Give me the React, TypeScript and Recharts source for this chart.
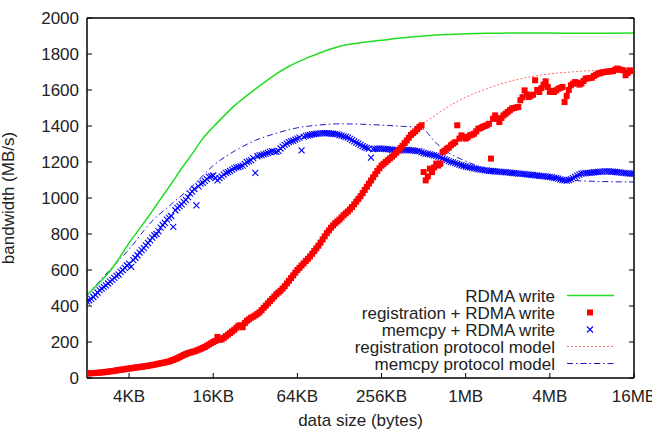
import {
  ComposedChart,
  Line,
  Scatter,
  XAxis,
  YAxis,
  Legend,
} from "recharts";

// x values are log2(bytes): 11 = 2KB ... 24 = 16MB
const xTicks = [12, 14, 16, 18, 20, 22, 24];
const xTickLabels = ["4KB", "16KB", "64KB", "256KB", "1MB", "4MB", "16MB"];
const yTicks = [0, 200, 400, 600, 800, 1000, 1200, 1400, 1600, 1800, 2000];

const seriesNames = [
  "RDMA write",
  "registration + RDMA write",
  "memcpy + RDMA write",
  "registration protocol model",
  "memcpy protocol model",
];

// measured samples (log2 size)
const sampleSizes = [
  11.0, 11.05, 11.1, 11.15, 11.2, 11.25, 11.3, 11.35, 11.4, 11.45, 11.5, 11.55, 11.6, 11.65, 11.7, 11.75, 11.8, 11.85, 11.9, 11.95,
  12.0, 12.05, 12.1, 12.15, 12.2, 12.25, 12.3, 12.35, 12.4, 12.45, 12.5, 12.55, 12.6, 12.65, 12.7, 12.75, 12.8, 12.85, 12.9, 12.95,
  13.0, 13.05, 13.1, 13.15, 13.2, 13.25, 13.3, 13.35, 13.4, 13.45, 13.5, 13.55, 13.6, 13.65, 13.7, 13.75, 13.8, 13.85, 13.9, 13.95,
  14.0, 14.05, 14.1, 14.15, 14.2, 14.25, 14.3, 14.35, 14.4, 14.45, 14.5, 14.55, 14.6, 14.65, 14.7, 14.75, 14.8, 14.85, 14.9, 14.95,
  15.0, 15.05, 15.1, 15.15, 15.2, 15.25, 15.3, 15.35, 15.4, 15.45, 15.5, 15.55, 15.6, 15.65, 15.7, 15.75, 15.8, 15.85, 15.9, 15.95,
  16.0, 16.05, 16.1, 16.15, 16.2, 16.25, 16.3, 16.35, 16.4, 16.45, 16.5, 16.55, 16.6, 16.65, 16.7, 16.75, 16.8, 16.85, 16.9, 16.95,
  17.0, 17.05, 17.1, 17.15, 17.2, 17.25, 17.3, 17.35, 17.4, 17.45, 17.5, 17.55, 17.6, 17.65, 17.7, 17.75, 17.8, 17.85, 17.9, 17.95,
  18.0, 18.05, 18.1, 18.15, 18.2, 18.25, 18.3, 18.35, 18.4, 18.45, 18.5, 18.55, 18.6, 18.65, 18.7, 18.75, 18.8, 18.85, 18.9, 18.95,
  19.0, 19.05, 19.1, 19.15, 19.2, 19.25, 19.3, 19.35, 19.4, 19.45, 19.5, 19.55, 19.6, 19.65, 19.7, 19.75, 19.8, 19.85, 19.9, 19.95,
  20.0, 20.05, 20.1, 20.15, 20.2, 20.25, 20.3, 20.35, 20.4, 20.45, 20.5, 20.55, 20.6, 20.65, 20.7, 20.75, 20.8, 20.85, 20.9, 20.95,
  21.0, 21.05, 21.1, 21.15, 21.2, 21.25, 21.3, 21.35, 21.4, 21.45, 21.5, 21.55, 21.6, 21.65, 21.7, 21.75, 21.8, 21.85, 21.9, 21.95,
  22.0, 22.05, 22.1, 22.15, 22.2, 22.25, 22.3, 22.35, 22.4, 22.45, 22.5, 22.55, 22.6, 22.65, 22.7, 22.75, 22.8, 22.85, 22.9, 22.95,
  23.0, 23.05, 23.1, 23.15, 23.2, 23.25, 23.3, 23.35, 23.4, 23.45, 23.5, 23.55, 23.6, 23.65, 23.7, 23.75, 23.8, 23.85, 23.9, 23.95,
  24.0,
];

const registrationRdma = [
  25, 26, 27, 27, 28, 29, 30, 31, 32, 34, 35, 37, 38, 40, 42, 44, 46, 47, 49, 51,
  53, 54, 56, 58, 59, 61, 63, 64, 66, 68, 70, 72, 74, 77, 79, 82, 84, 86, 89, 92,
  96, 100, 105, 110, 116, 122, 128, 133, 138, 141, 145, 148, 152, 157, 162, 167, 172, 179, 186, 193,
  200, 206, 228, 212, 214, 223, 232, 241, 250, 259, 268, 279, 290, 293, 282, 305, 318, 326, 335, 341,
  348, 356, 365, 377, 390, 402, 415, 428, 440, 452, 465, 475, 485, 497, 510, 525, 540, 555, 570, 585,
  600, 612, 625, 637, 650, 662, 675, 690, 705, 720, 735, 752, 770, 787, 805, 820, 835, 848, 860, 870,
  880, 892, 905, 915, 925, 937, 950, 965, 980, 995, 1010, 1027, 1045, 1062, 1080, 1097, 1115, 1132, 1150, 1165,
  1180, 1190, 1200, 1210, 1220, 1230, 1240, 1252, 1265, 1277, 1290, 1305, 1320, 1335, 1350, 1360, 1370, 1382, 1395, 1404,
  1144, 1098, 1120, 1163, 1144, 1170, 1191, 1180, 1191, 1255, 1262, 1274, 1280, 1293, 1302, 1310, 1404, 1330, 1348, 1340,
  1330, 1338, 1348, 1352, 1357, 1370, 1385, 1388, 1395, 1400, 1404, 1412, 1219, 1440, 1459, 1440, 1422, 1445, 1459, 1468,
  1478, 1488, 1497, 1500, 1503, 1506, 1543, 1560, 1598, 1575, 1561, 1568, 1574, 1654, 1600, 1589, 1610, 1630, 1648, 1617,
  1589, 1595, 1589, 1598, 1607, 1612, 1617, 1533, 1567, 1600, 1626, 1635, 1644, 1640, 1630, 1636, 1650, 1663, 1665, 1667,
  1668, 1678, 1685, 1691, 1694, 1698, 1700, 1702, 1703, 1704, 1705, 1712, 1719, 1715, 1711, 1709, 1682, 1695, 1709, 1706,
  1705,
];

const memcpyRdma = [
  425, 432, 440, 450, 462, 475, 488, 497, 506, 515, 525, 535, 545, 556, 567, 575, 590, 600, 612, 625,
  636, 617, 655, 668, 682, 696, 710, 722, 737, 750, 765, 780, 793, 800, 815, 835, 850, 862, 880, 890,
  900, 839, 932, 945, 955, 965, 978, 990, 1005, 1024, 1035, 1050, 959, 1065, 1080, 1085, 1095, 1105, 1117, 1120,
  1125, 1110, 1098, 1110, 1120, 1130, 1140, 1144, 1150, 1158, 1165, 1170, 1172, 1176, 1180, 1190, 1200, 1205, 1210, 1222,
  1139, 1232, 1237, 1238, 1242, 1246, 1250, 1256, 1260, 1258, 1256, 1262, 1275, 1285, 1295, 1302, 1310, 1314, 1318, 1324,
  1330, 1335, 1265, 1339, 1345, 1348, 1350, 1353, 1355, 1357, 1358, 1359, 1360, 1361, 1360, 1359, 1358, 1357, 1356, 1353,
  1350, 1346, 1342, 1339, 1335, 1329, 1322, 1315, 1308, 1302, 1295, 1288, 1282, 1278, 1274, 1224, 1272, 1273, 1274, 1275,
  1274, 1273, 1272, 1271, 1270, 1268, 1266, 1265, 1265, 1265, 1265, 1266, 1267, 1266, 1265, 1264, 1262, 1261, 1260, 1255,
  1250, 1247, 1245, 1242, 1240, 1237, 1234, 1230, 1226, 1220, 1215, 1210, 1205, 1201, 1198, 1194, 1190, 1186, 1182, 1178,
  1175, 1172, 1170, 1167, 1165, 1162, 1160, 1158, 1156, 1154, 1153, 1151, 1150, 1149, 1148, 1147, 1146, 1145, 1144, 1143,
  1142, 1141, 1140, 1138, 1137, 1136, 1135, 1134, 1133, 1131, 1130, 1129, 1128, 1126, 1125, 1123, 1122, 1121, 1120, 1118,
  1117, 1115, 1112, 1110, 1108, 1104, 1100, 1098, 1097, 1100, 1105, 1110, 1117, 1124, 1130, 1135, 1137, 1138, 1139, 1140,
  1141, 1143, 1144, 1145, 1146, 1147, 1148, 1148, 1148, 1147, 1146, 1145, 1143, 1142, 1141, 1140, 1138, 1137, 1135, 1135,
  1135,
];

// plain RDMA write curve
const rdmaSizes = [
  11, 11.25, 11.5, 11.75, 12, 12.25, 12.5, 12.75, 13, 13.25, 13.5, 13.75,
  14, 14.25, 14.5, 14.75, 15, 15.25, 15.5, 15.75, 16, 16.25, 16.5, 16.75,
  17, 17.5, 18, 18.5, 19, 19.5, 20, 20.5, 21, 22, 23, 24,
];
const rdmaWrite = [
  460, 520, 580, 660, 750, 830, 910, 995, 1078, 1165, 1245, 1330,
  1395, 1455, 1512, 1560, 1605, 1648, 1690, 1725, 1755, 1780, 1803, 1825,
  1842, 1862, 1876, 1890, 1900, 1908, 1912, 1915, 1916, 1916, 1915, 1916,
];

// models
const regModelSizes = [
  11, 11.5, 12, 12.5, 13, 13.5, 14, 14.5, 15, 15.5, 16, 16.5, 17, 17.5, 18,
  18.5, 18.95, 19.25, 19.5, 19.75, 20, 20.5, 21, 21.5, 22, 22.5, 23, 23.5, 24,
];
const regModel = [
  25, 35, 52, 72, 100, 140, 200, 270, 350, 465, 600, 740, 880, 1020, 1170,
  1290, 1404, 1455, 1495, 1530, 1560, 1607, 1645, 1672, 1690, 1700, 1708, 1712, 1716,
];

const memModelSizes = [
  11, 11.5, 12, 12.5, 13, 13.5, 14, 14.5, 15, 15.5, 16, 16.5, 17, 17.5, 18,
  18.5, 18.92, 19.3, 19.6, 20, 20.5, 21, 21.5, 22, 22.5, 23, 23.5, 24,
];
const memModel = [
  460, 590, 715, 860, 965, 1065, 1180, 1260, 1320, 1360, 1390, 1405, 1412, 1410, 1405,
  1398, 1392, 1305, 1250, 1205, 1160, 1135, 1120, 1108, 1098, 1093, 1090, 1089,
];

const toRows = (xs: number[], ys: number[]) => xs.map((x, i) => ({ x, y: ys[i] }));

const regRows = toRows(sampleSizes, registrationRdma);
const memRows = toRows(sampleSizes, memcpyRdma);
const rdmaRows = toRows(rdmaSizes, rdmaWrite);
const regModelRows = toRows(regModelSizes, regModel);
const memModelRows = toRows(memModelSizes, memModel);

const FONT = "'Liberation Sans', Arial, Helvetica, sans-serif";
const TEXT = "#222";
const GREEN = "#22dd22";
const RED = "#ff0000";
const BLUE = "#0000ff";
const RED_MODEL = "#ff6666";
const BLUE_MODEL = "#1a1acc";
const TICK = 5;

const Square = (props: any) => {
  const { cx, cy } = props;
  return <rect x={cx - 3} y={cy - 3} width={6} height={6} fill={RED} />;
};

const Cross = (props: any) => {
  const { cx, cy } = props;
  return (
    <g stroke={BLUE} strokeWidth={1.1}>
      <line x1={cx - 3} y1={cy - 3} x2={cx + 3} y2={cy + 3} />
      <line x1={cx - 3} y1={cy + 3} x2={cx + 3} y2={cy - 3} />
    </g>
  );
};

// gnuplot style: tick marks point into the plot
const BottomTick = (props: any) => {
  const { x, y, payload } = props;
  const label = xTickLabels[xTicks.indexOf(payload.value)] ?? "";
  return (
    <g>
      <line x1={x} x2={x} y1={y - 12} y2={y - 12 - TICK} stroke="#000" />
      <text x={x} y={y} dy="0.72em" textAnchor="middle" fontSize={17} fontFamily={FONT} fill={TEXT}>
        {label}
      </text>
    </g>
  );
};

const LeftTick = (props: any) => {
  const { x, y, payload } = props;
  return (
    <g>
      <line x1={x + 8} x2={x + 8 + TICK} y1={y} y2={y} stroke="#000" />
      <text x={x} y={y} dy="0.36em" textAnchor="end" fontSize={17} fontFamily={FONT} fill={TEXT}>
        {payload.value}
      </text>
    </g>
  );
};

const TopTick = (props: any) => {
  const { x, y } = props;
  return <line x1={x} x2={x} y1={y} y2={y + TICK} stroke="#000" />;
};

const RightTick = (props: any) => {
  const { x, y } = props;
  return <line x1={x} x2={x - TICK} y1={y} y2={y} stroke="#000" />;
};

function KeyBox() {
  const textX = 555;
  const sx1 = 567;
  const sx2 = 614;
  const mid = 590;
  const base = 301.5;
  const step = 17;
  return (
    <svg width={652} height={434} style={{ display: "block" }}>
      {seriesNames.map((name, i) => (
        <text
          key={name}
          x={textX}
          y={base + i * step}
          textAnchor="end"
          fontSize={17}
          fontFamily={FONT}
          fill={TEXT}
        >
          {name}
        </text>
      ))}
      <line x1={sx1} y1={base - 6} x2={sx2} y2={base - 6} stroke={GREEN} strokeWidth={1.5} />
      <Square cx={mid} cy={base + step - 6} />
      <Cross cx={mid} cy={base + 2 * step - 6} />
      <line
        x1={sx1}
        y1={base + 3 * step - 6}
        x2={sx2}
        y2={base + 3 * step - 6}
        stroke={RED_MODEL}
        strokeWidth={1}
        strokeDasharray="2 2"
      />
      <line
        x1={sx1}
        y1={base + 4 * step - 6}
        x2={sx2}
        y2={base + 4 * step - 6}
        stroke={BLUE_MODEL}
        strokeWidth={1}
        strokeDasharray="6 3 1.5 3"
      />
    </svg>
  );
}

export default function App() {
  const border = { stroke: "#000", strokeWidth: 1.5 };
  return (
    <div
      style={{
        position: "absolute",
        left: 0,
        top: 0,
        width: 652,
        height: 434,
        background: "#fff",
      }}
    >
      <ComposedChart
        width={652}
        height={434}
        margin={{ top: 17, right: 17, left: 0, bottom: 0 }}
      >
        <XAxis
          xAxisId={0}
          dataKey="x"
          type="number"
          domain={[11, 24]}
          ticks={xTicks}
          interval={0}
          height={56}
          tickSize={0}
          tickMargin={12}
          tick={<BottomTick />}
          tickLine={false}
          axisLine={border}
          allowDataOverflow
          label={{
            value: "data size (bytes)",
            position: "insideBottom",
            offset: 8,
            style: { fontSize: 17, fill: TEXT, fontFamily: FONT },
          }}
        />
        <XAxis
          xAxisId="top"
          orientation="top"
          type="number"
          domain={[11, 24]}
          ticks={xTicks}
          interval={0}
          height={1}
          tickSize={0}
          tickMargin={0}
          tick={<TopTick />}
          tickLine={false}
          axisLine={border}
          allowDataOverflow
        />
        <YAxis
          yAxisId={0}
          type="number"
          domain={[0, 2000]}
          ticks={yTicks}
          interval={0}
          width={87}
          tickSize={0}
          tickMargin={8}
          tick={<LeftTick />}
          tickLine={false}
          axisLine={border}
          allowDataOverflow
          label={{
            value: "bandwidth (MB/s)",
            angle: -90,
            position: "insideLeft",
            offset: 8,
            style: { fontSize: 17, fill: TEXT, fontFamily: FONT, textAnchor: "middle" },
          }}
        />
        <YAxis
          yAxisId="right"
          orientation="right"
          type="number"
          domain={[0, 2000]}
          ticks={yTicks}
          interval={0}
          width={1}
          tickSize={0}
          tickMargin={0}
          tick={<RightTick />}
          tickLine={false}
          axisLine={border}
          allowDataOverflow
        />
        <Line
          data={regModelRows}
          dataKey="y"
          type="monotone"
          stroke={RED_MODEL}
          strokeWidth={1}
          strokeDasharray="2 2"
          dot={false}
          isAnimationActive={false}
        />
        <Line
          data={memModelRows}
          dataKey="y"
          type="monotone"
          stroke={BLUE_MODEL}
          strokeWidth={1}
          strokeDasharray="6 3 1.5 3"
          dot={false}
          isAnimationActive={false}
        />
        <Line
          data={rdmaRows}
          dataKey="y"
          type="monotone"
          stroke={GREEN}
          strokeWidth={1.5}
          dot={false}
          isAnimationActive={false}
        />
        <Scatter data={memRows} dataKey="y" shape={<Cross />} isAnimationActive={false} />
        <Scatter data={regRows} dataKey="y" shape={<Square />} isAnimationActive={false} />
        <Legend
          layout="vertical"
          align="center"
          verticalAlign="middle"
          content={() => <KeyBox />}
          wrapperStyle={{ left: 0, top: 0, width: 652, height: 434, pointerEvents: "none" }}
        />
      </ComposedChart>
    </div>
  );
}
